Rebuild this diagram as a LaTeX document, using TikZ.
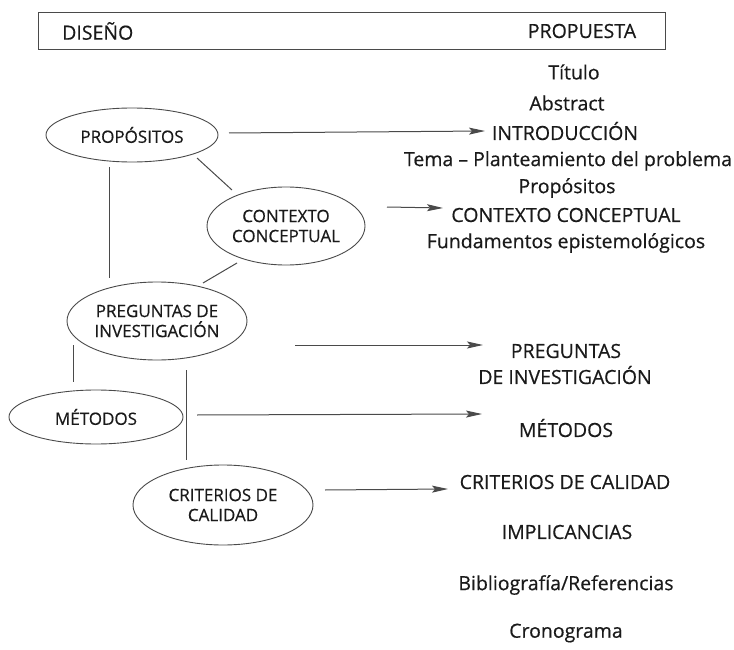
\documentclass[tikz,border=0pt]{standalone}
\usepackage{fontspec}
\setmainfont{Open Sans}[FakeBold=0.5]
\usetikzlibrary{arrows.meta,calc,shapes.geometric}
\definecolor{ink}{HTML}{1a1a1a}
\definecolor{lin}{HTML}{4a4a4a}
\begin{document}
\begin{tikzpicture}[x=1pt,y=-1pt,
  every node/.style={text=ink,inner sep=0pt},
  rtext/.style={font=\fontsize{19.5}{22}\selectfont,align=center},
  etext/.style={draw=lin,line width=0.9pt,ellipse,font=\fontsize{17}{20}\selectfont,align=center},
  conn/.style={draw=lin,line width=1pt},
  arr/.style={draw=lin,line width=1pt,-{Stealth[length=16pt,width=7pt,inset=3pt]}}]
\useasboundingbox (0,0) rectangle (734,650);
% header box
\node[draw=lin,line width=1pt,minimum width=627pt,minimum height=37pt] (hdr) at (351.5,31.5) {};
\node[rtext,anchor=west] (dis) at (62,31) {DISEÑO};
\node[rtext] (prop) at (582,31) {PROPUESTA};
% right column
\node[rtext] (tit) at (574,72) {Título};
\node[rtext] (abs) at (567,103) {Abstract};
\node[rtext] (intro) at (565,131) {INTRODUCCIÓN};
\node[rtext] (tema) at (568,161) {Tema – Planteamiento del problema};
\node[rtext] (props) at (567,188) {Propósitos};
\node[rtext] (ctx) at (566,215) {CONTEXTO CONCEPTUAL};
\node[rtext] (fund) at (566,243) {Fundamentos epistemológicos};
\node[rtext] (pregr) at (566,351) {PREGUNTAS};
\node[rtext] (pregr2) at (565,375) {DE INVESTIGACIÓN};
\node[rtext] (metr) at (566,428) {MÉTODOS};
\node[rtext] (crit) at (565,482) {CRITERIOS DE CALIDAD};
\node[rtext] (impl) at (567,532) {IMPLICANCIAS};
\node[rtext] (bib) at (566,585) {Bibliografía/Referencias};
\node[rtext] (cron) at (566,633) {Cronograma};
% arrow tips
\coordinate (t1) at (485,131);
\coordinate (t2) at (443,208);
\coordinate (t3) at (483,345);
\coordinate (t4) at (482,414);
\coordinate (t5) at (448,489);
% ellipses
\node[etext,minimum width=172pt,minimum height=54pt] (eprop) at (132,135) {PROPÓSITOS};
\node[etext,minimum width=158pt,minimum height=78pt] (ectx) at (286,226) {CONTEXTO\\CONCEPTUAL};
\node[etext,minimum width=180pt,minimum height=78pt] (epreg) at (157,321) {PREGUNTAS DE\\INVESTIGACIÓN};
\node[etext,minimum width=174pt,minimum height=54pt] (emet) at (96,417) {MÉTODOS};
\node[etext,minimum width=180pt,minimum height=80pt] (ecrit) at (223,505) {CRITERIOS DE\\CALIDAD};
% undirected links
\draw[conn] ($(eprop.center)+(65,23)$) -- ($(ectx.center)+(-54,-36)$);
\draw[conn] ($(eprop.center)+(-23,32)$) -- ($(epreg.center)+(-48,-43)$);
\draw[conn] ($(ectx.center)+(-49,37)$) -- ($(epreg.center)+(46,-38)$);
\draw[conn] ($(epreg.center)+(-84,24)$) -- ($(emet.center)+(-23,-35)$);
\draw[conn] ($(epreg.center)+(29,49)$) -- ($(ecrit.center)+(-37,-45)$);
% arrows
\draw[arr] ($(eprop.center)+(97,-2)$) -- (t1);
\draw[arr] ($(ectx.center)+(101,-19)$) -- (t2);
\draw[arr] ($(epreg.center)+(138,24)$) -- (t3);
\draw[arr] ($(emet.center)+(101,-2)$) -- (t4);
\draw[arr] ($(ecrit.center)+(102,-15)$) -- (t5);
\end{tikzpicture}
\end{document}
